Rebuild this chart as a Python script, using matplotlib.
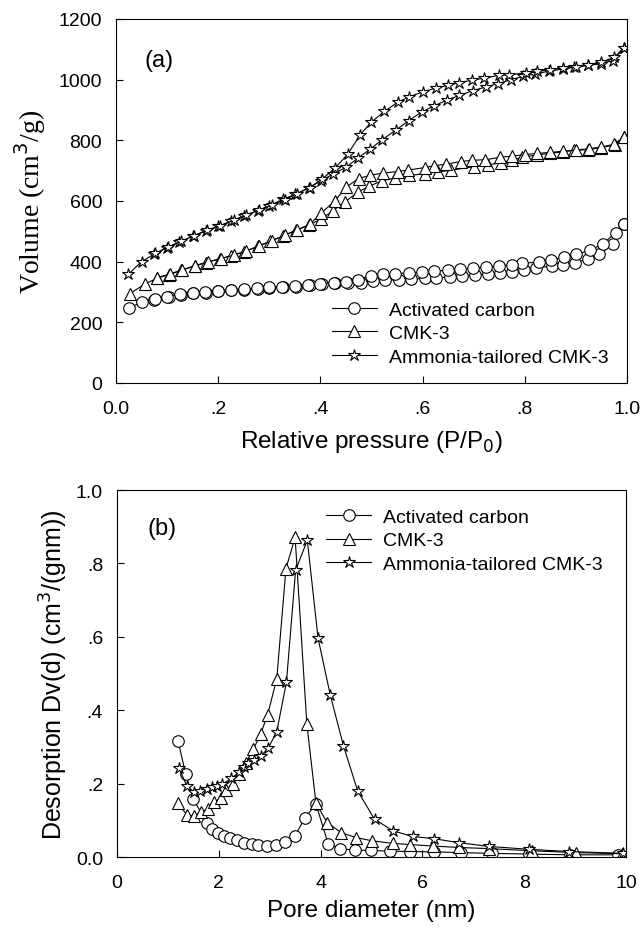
import numpy as np
import matplotlib
matplotlib.use('Agg')
import matplotlib.pyplot as plt

plt.rcParams['font.family'] = ['Liberation Sans', 'DejaVu Sans']
plt.rcParams['font.size'] = 14

# ---- (a) N2 isotherms: relative pressure vs volume ----
p_ac_ads = [0.026, 0.050, 0.074, 0.103, 0.127, 0.151, 0.176, 0.200, 0.226, 0.251,
            0.277, 0.300, 0.327, 0.352, 0.379, 0.404, 0.429, 0.455, 0.479, 0.503,
            0.527, 0.553, 0.578, 0.604, 0.627, 0.653, 0.678, 0.703, 0.728, 0.752,
            0.776, 0.799, 0.823, 0.854, 0.874, 0.899, 0.924, 0.946, 0.973, 0.994]
v_ac_ads = [248, 266, 275, 283, 291, 296, 298, 302, 306, 308,
            311, 314, 316, 318, 322, 325, 328, 329, 331, 336,
            338, 341, 342, 345, 347, 349, 353, 357, 360, 363,
            367, 372, 380, 385, 388, 397, 408, 424, 459, 525]
p_ac_des = [0.994, 0.978, 0.953, 0.928, 0.901, 0.876, 0.851, 0.827, 0.795, 0.776,
            0.750, 0.724, 0.699, 0.674, 0.649, 0.623, 0.598, 0.573, 0.547, 0.523,
            0.499, 0.473, 0.450, 0.426, 0.400, 0.375, 0.350, 0.325, 0.300, 0.275,
            0.250, 0.225, 0.200, 0.175, 0.150, 0.125, 0.100, 0.076]
v_ac_des = [525, 496, 458, 438, 424, 414, 406, 399, 394, 390,
            386, 382, 379, 375, 372, 368, 365, 363, 360, 358,
            354, 341, 334, 330, 327, 323, 320, 318, 316, 312,
            310, 307, 304, 300, 297, 292, 285, 277]

p_cmk_ads = [0.027, 0.056, 0.080, 0.103, 0.128, 0.154, 0.177, 0.203, 0.226, 0.251,
             0.277, 0.302, 0.327, 0.352, 0.377, 0.402, 0.424, 0.449, 0.473, 0.496,
             0.520, 0.547, 0.574, 0.605, 0.630, 0.655, 0.700, 0.728, 0.754, 0.775,
             0.795, 0.825, 0.850, 0.874, 0.897, 0.923, 0.949, 0.976, 0.994]
v_cmk_ads = [294, 326, 345, 357, 371, 386, 397, 409, 419, 433,
             450, 467, 485, 503, 520, 541, 567, 598, 629, 649,
             666, 676, 684, 690, 696, 701, 713, 719, 726, 735,
             744, 752, 757, 762, 767, 769, 776, 784, 811]
p_cmk_des = [0.994, 0.975, 0.950, 0.925, 0.900, 0.875, 0.850, 0.825, 0.801, 0.776,
             0.752, 0.723, 0.696, 0.675, 0.645, 0.622, 0.604, 0.572, 0.551, 0.523,
             0.498, 0.475, 0.451, 0.428, 0.401, 0.379, 0.355, 0.330, 0.305, 0.280,
             0.255, 0.230, 0.205, 0.180, 0.155, 0.130, 0.105, 0.080]
v_cmk_des = [811, 787, 778, 772, 768, 764, 760, 757, 753, 748,
             744, 736, 734, 730, 721, 716, 710, 702, 697, 692,
             685, 674, 646, 600, 559, 523, 505, 487, 469, 452,
             435, 421, 410, 399, 387, 373, 359, 347]

p_nh3_ads = [0.024, 0.050, 0.074, 0.099, 0.124, 0.150, 0.176, 0.200, 0.226, 0.251,
             0.277, 0.300, 0.326, 0.351, 0.377, 0.401, 0.424, 0.451, 0.474, 0.497,
             0.520, 0.549, 0.573, 0.598, 0.622, 0.647, 0.672, 0.699, 0.724, 0.748,
             0.774, 0.797, 0.821, 0.848, 0.874, 0.897, 0.923, 0.949, 0.972, 0.994]
v_nh3_ads = [358, 400, 424, 446, 464, 484, 502, 516, 533, 552,
             568, 584, 605, 622, 643, 666, 688, 712, 742, 770,
             801, 835, 865, 893, 913, 932, 948, 964, 976, 987,
             1000, 1011, 1019, 1028, 1035, 1041, 1047, 1052, 1063, 1105]
p_nh3_des = [0.994, 0.975, 0.950, 0.923, 0.900, 0.875, 0.850, 0.825, 0.802, 0.770,
             0.749, 0.721, 0.696, 0.672, 0.649, 0.626, 0.601, 0.573, 0.552, 0.525,
             0.500, 0.478, 0.454, 0.429, 0.404, 0.379, 0.355, 0.330, 0.305, 0.280,
             0.255, 0.230, 0.204, 0.179, 0.153, 0.128, 0.102, 0.077]
v_nh3_des = [1105, 1073, 1058, 1047, 1043, 1039, 1033, 1027, 1022, 1016,
             1014, 1005, 998, 990, 981, 972, 960, 943, 926, 895,
             860, 819, 755, 709, 673, 644, 624, 604, 587, 570,
             553, 536, 519, 503, 486, 467, 448, 427]

# ---- (b) BJH desorption pore size distribution ----
d_ac = [1.20, 1.35, 1.50, 1.76, 1.87, 1.99, 2.10, 2.23, 2.35, 2.50,
        2.65, 2.78, 2.94, 3.12, 3.30, 3.49, 3.69, 3.91, 4.15, 4.39,
        4.68, 4.99, 5.36, 5.75, 6.22, 6.75, 7.37, 8.09, 8.91, 9.84]
dv_ac = [0.317, 0.226, 0.158, 0.094, 0.077, 0.066, 0.057, 0.052, 0.046, 0.039,
         0.035, 0.033, 0.030, 0.032, 0.041, 0.056, 0.106, 0.144, 0.036, 0.022,
         0.019, 0.018, 0.016, 0.015, 0.014, 0.012, 0.010, 0.008, 0.006, 0.006]

d_cmk = [1.19, 1.38, 1.52, 1.65, 1.78, 1.91, 2.04, 2.15, 2.27, 2.40,
         2.53, 2.68, 2.82, 2.96, 3.14, 3.32, 3.50, 3.73, 3.91, 4.13,
         4.41, 4.70, 5.02, 5.43, 5.75, 6.20, 6.72, 7.30, 8.16, 9.02, 9.92]
dv_cmk = [0.147, 0.114, 0.112, 0.123, 0.130, 0.150, 0.160, 0.183, 0.199, 0.225,
          0.256, 0.294, 0.334, 0.388, 0.486, 0.786, 0.871, 0.363, 0.146, 0.094,
          0.066, 0.053, 0.044, 0.037, 0.034, 0.030, 0.026, 0.023, 0.017, 0.012, 0.009]

d_nh3 = [1.22, 1.37, 1.52, 1.63, 1.76, 1.87, 1.97, 2.07, 2.25, 2.39,
         2.50, 2.58, 2.70, 2.83, 2.97, 3.14, 3.33, 3.51, 3.74, 3.95,
         4.19, 4.45, 4.73, 5.06, 5.43, 5.81, 6.23, 6.72, 7.30, 8.09, 8.88, 9.95]
dv_nh3 = [0.242, 0.194, 0.176, 0.180, 0.185, 0.190, 0.194, 0.199, 0.214, 0.231,
          0.244, 0.256, 0.265, 0.276, 0.296, 0.342, 0.477, 0.782, 0.863, 0.597,
          0.442, 0.303, 0.180, 0.103, 0.071, 0.056, 0.050, 0.039, 0.029, 0.021, 0.015, 0.010]

labels = ['Activated carbon', 'CMK-3', 'Ammonia-tailored CMK-3']

# marker styles
sty_ac = dict(color='k', lw=0.8, marker='o', ms=8.3, mfc='white', mec='k', mew=0.8)
sty_cmk = dict(color='k', lw=0.8, marker='^', ms=8.5, mfc='white', mec='k', mew=0.8)
sty_nh3 = dict(color='k', lw=0.8, marker='*', ms=9, mfc='white', mec='k', mew=0.8)

fig = plt.figure(figsize=(6.41, 9.29), dpi=100)
ax1 = fig.add_axes([0.181, 0.5867, 0.797, 0.3918])
ax2 = fig.add_axes([0.1825, 0.0764, 0.794, 0.3950])

# panel (a)
ax1.plot(p_ac_ads, v_ac_ads, label=labels[0], **sty_ac)
ax1.plot(p_ac_des, v_ac_des, **sty_ac)
ax1.plot(p_cmk_ads, v_cmk_ads, label=labels[1], **sty_cmk)
ax1.plot(p_cmk_des, v_cmk_des, **sty_cmk)
ax1.plot(p_nh3_ads, v_nh3_ads, label=labels[2], **sty_nh3)
ax1.plot(p_nh3_des, v_nh3_des, **sty_nh3)
ax1.set_xlim(0, 1.0)
ax1.set_ylim(0, 1200)
ax1.set_xticks([0, 0.2, 0.4, 0.6, 0.8, 1.0])
ax1.set_xticklabels(['0.0', '.2', '.4', '.6', '.8', '1.0'])
ax1.set_yticks(range(0, 1201, 200))
ax1.set_xlabel('Relative pressure (P/P$_0$)', fontsize=17.5, labelpad=8)
ax1.set_ylabel('Volume (cm$^3$/g)', fontsize=20, family='Liberation Serif',
               labelpad=8)
ax1.text(0.055, 0.87, '(a)', transform=ax1.transAxes, fontsize=17)
ax1.legend(loc='upper left', bbox_to_anchor=(0.423, 0.225), frameon=False,
           borderpad=0, borderaxespad=0, handlelength=2.3, handletextpad=0.6,
           labelspacing=0.3, fontsize=14)

# panel (b)
ax2.plot(d_ac, dv_ac, label=labels[0], **sty_ac)
ax2.plot(d_cmk, dv_cmk, label=labels[1], **sty_cmk)
ax2.plot(d_nh3, dv_nh3, label=labels[2], **sty_nh3)
ax2.set_xlim(0, 10)
ax2.set_ylim(0, 1.0)
ax2.set_xticks(range(0, 11, 2))
ax2.set_yticks([0, 0.2, 0.4, 0.6, 0.8, 1.0])
ax2.set_yticklabels(['0.0', '.2', '.4', '.6', '.8', '1.0'])
ax2.set_xlabel('Pore diameter (nm)', fontsize=17.5, labelpad=6)
ax2.set_ylabel('Desorption Dv(d) (cm$^3$/(gnm))', fontsize=18, labelpad=4)
ax2.text(0.06, 0.88, '(b)', transform=ax2.transAxes, fontsize=17)
ax2.legend(loc='upper left', bbox_to_anchor=(0.411, 0.95), frameon=False,
           borderpad=0, borderaxespad=0, handlelength=2.3, handletextpad=0.6,
           labelspacing=0.3, fontsize=14)

for ax in (ax1, ax2):
    ax.tick_params(direction='in', length=5, width=0.8, top=False, right=False,
                   labelsize=14)
    ax.tick_params(axis='x', pad=12)
    ax.tick_params(axis='y', pad=10)
    for s in ax.spines.values():
        s.set_linewidth(0.8)

fig.savefig('out.png', dpi=100)
